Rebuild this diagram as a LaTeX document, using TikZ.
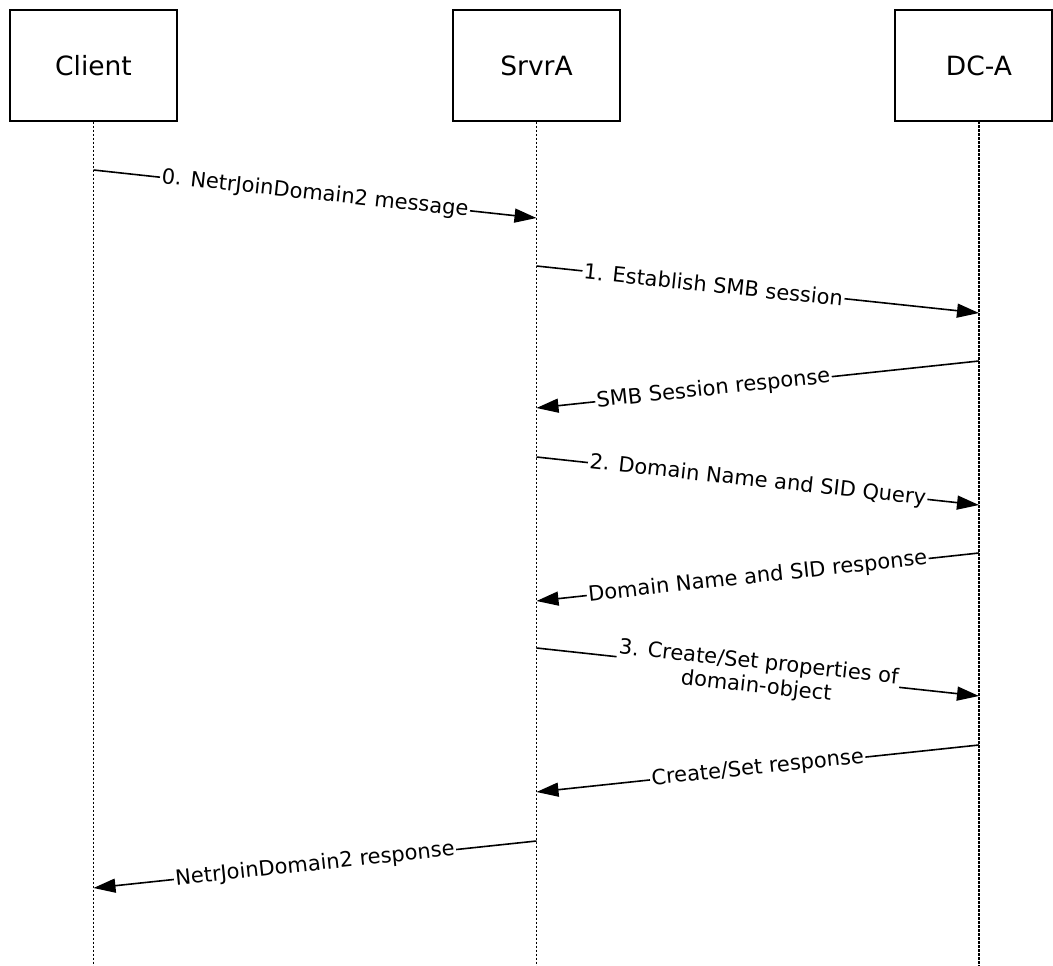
\documentclass[tikz,border=0pt]{standalone}
\usepackage{fontspec}
\setmainfont{DejaVu Sans}
\usetikzlibrary{arrows.meta}
\begin{document}
\begin{tikzpicture}[x=1pt,y=-1pt,
 actor/.style={draw,line width=1.4pt,minimum width=167pt,minimum height=111pt,inner sep=0pt,font=\fontsize{26.5}{30}\selectfont},
 life/.style={line width=1.5pt,dash pattern=on 2.5pt off 1.5pt},
 msg/.style={line width=1.6pt,-{Triangle[length=22pt,width=14pt]}},
 lbl/.style={fill=white,inner sep=1.5pt,font=\fontsize{21}{24}\selectfont,sloped,align=center}]
\useasboundingbox (0,0) rectangle (1053,966);
\node[actor] (client) at (93.5,65.5) {Client};
\node[actor] (srvra) at (536.5,65.5) {SrvrA};
\node[font=\fontsize{26.5}{30}\selectfont,inner sep=0pt] (dca) at (979,65.5) {DC-A};
\draw[line width=1.4pt] (895,10) rectangle (1052,121);
\coordinate (dcabot) at (979,121);
% lifelines
\coordinate (cl1) at (93.5,966);
\coordinate (sr1) at (536.5,966);
\coordinate (dc1) at (979,966);
\draw[life] (client.south) -- (cl1);
\draw[life] (srvra.south) -- (sr1);
\draw[life] (dcabot) -- (dc1);
% message endpoints
\coordinate (m0a) at (93.5,170); \coordinate (m0b) at (536.5,218);
\coordinate (m1a) at (536.5,266); \coordinate (m1b) at (979,313);
\coordinate (r1a) at (979,361); \coordinate (r1b) at (536.5,408);
\coordinate (m2a) at (536.5,457); \coordinate (m2b) at (979,505);
\coordinate (r2a) at (979,553); \coordinate (r2b) at (536.5,601);
\coordinate (m3a) at (536.5,648); \coordinate (m3b) at (979,696);
\coordinate (r3a) at (979,745); \coordinate (r3b) at (536.5,792);
\coordinate (r0a) at (536.5,841); \coordinate (r0b) at (93.5,888);
\draw[msg] (m0a) -- node[lbl,pos=0.5] {0. NetrJoinDomain2 message} (m0b);
\draw[msg] (m1a) -- node[lbl,pos=0.4] {1. Establish SMB session} (m1b);
\draw[msg] (r1a) -- node[lbl,pos=0.6] {SMB Session response} (r1b);
\draw[msg] (m2a) -- node[lbl,pos=0.5] {2. Domain Name and SID Query} (m2b);
\draw[msg] (r2a) -- node[lbl,pos=0.5] {Domain Name and SID response} (r2b);
\draw[msg] (m3a) -- node[lbl,pos=0.5,yshift=-3pt] {3. Create/Set properties of\\domain-object} (m3b);
\draw[msg] (r3a) -- node[lbl,pos=0.5] {Create/Set response} (r3b);
\draw[msg] (r0a) -- node[lbl,pos=0.5] {NetrJoinDomain2 response} (r0b);
\end{tikzpicture}
\end{document}
